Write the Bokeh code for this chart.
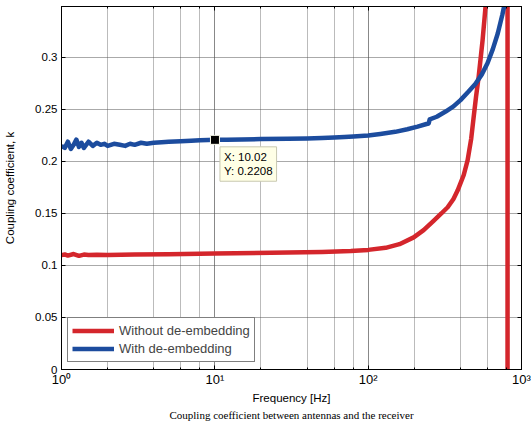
from bokeh.plotting import figure
from bokeh.models import (Range1d, LogAxis, LinearAxis, FixedTicker, LogTicker,
                          Legend, LegendItem, Label, Title)
from bokeh.embed import file_html
from bokeh.resources import INLINE

# ---------------- data ----------------
freq_with = [1.0, 1.05, 1.1, 1.15, 1.2, 1.25, 1.3, 1.35, 1.4, 1.5, 1.6, 1.7, 1.8, 1.9, 2.0,
             2.2, 2.4, 2.6, 2.8, 3.0, 3.3, 3.6, 4.0, 4.5, 5.0, 6.0, 7.0, 8.0, 9.0, 10.02,
             12, 15, 20, 30, 40, 50, 60, 70, 80, 100, 120, 150, 180, 210, 240, 248, 252,
             280, 320, 360, 400, 450, 500, 550, 600, 650, 700, 750, 780, 800]
k_with = [0.215, 0.213, 0.219, 0.212, 0.216, 0.221, 0.214, 0.218, 0.213, 0.219, 0.215, 0.218,
          0.216, 0.217, 0.215, 0.217, 0.216, 0.215, 0.217, 0.216, 0.218, 0.217, 0.218, 0.2185,
          0.219, 0.2195, 0.2200, 0.2203, 0.2206, 0.2208, 0.2210, 0.2212, 0.2215, 0.2218,
          0.2222, 0.2225, 0.2230, 0.2235, 0.2240, 0.2250, 0.2265, 0.2285, 0.2310, 0.2335,
          0.2360, 0.2365, 0.2405, 0.2430, 0.2480, 0.2530, 0.2590, 0.2670, 0.2745, 0.2835,
          0.2945, 0.3080, 0.3230, 0.3410, 0.3530, 0.3620]

freq_without = [1.0, 1.05, 1.1, 1.2, 1.3, 1.4, 1.5, 1.7, 2.0, 3.0, 5.0, 10.0, 30.0, 50.0,
                77.0, 100.0, 130.0, 160.0, 198.0, 230.0, 267.0, 300.0, 330.0, 360.0, 383.0,
                420.0, 445.0, 470.0, 487.0, 505.0, 525.0, 545.0, 557.0, 583.0, 620.0, 700.0,
                780.0, 810.0, 812.0, 850.0, 1000.0]
k_without = [0.1100, 0.1106, 0.1095, 0.1110, 0.1093, 0.1105, 0.1100, 0.1103, 0.1100, 0.1105,
             0.1108, 0.1115, 0.1125, 0.1130, 0.1140, 0.1150, 0.1170, 0.1205, 0.1270, 0.1340,
             0.1430, 0.1500, 0.1560, 0.1640, 0.1720, 0.1870, 0.2010, 0.2220, 0.2420, 0.2620,
             0.2810, 0.3030, 0.3160, 0.3490, 0.4100, 0.6000, 1.2000, 3.0000, -3.0000,
             -1.0000, -0.4000]

y_ticks = [0, 0.05, 0.1, 0.15, 0.2, 0.25, 0.3]
y_tick_labels = ["0", "0.05", "0.1", "0.15", "0.2", "0.25", "0.3"]
x_ticks = [1, 10, 100, 1000]
x_tick_labels = ["10\u2070", "10\u00b9", "10\u00b2", "10\u00b3"]

tip_x, tip_y = 10.02, 0.2208
series_names = ["Without de-embedding", "With de-embedding"]
caption = "Coupling coefficient between antennas and the receiver"

RED = "#d4262c"
BLUE = "#1c4c9e"
FONT = "Liberation Sans"

p = figure(width=531, height=421, x_axis_type="log",
           x_range=Range1d(1, 1000), y_range=Range1d(0, 0.349),
           output_backend="svg", toolbar_location=None,
           min_border_left=61, min_border_right=10, min_border_top=6, min_border_bottom=52,
           background_fill_color="white", border_fill_color="white")
p.outline_line_color = "black"
p.outline_line_width = 1

# grids
p.xgrid.grid_line_color = "#555555"
p.xgrid.grid_line_dash = "1 1"
p.xgrid.minor_grid_line_color = "#777777"
p.xgrid.minor_grid_line_dash = "1 1"
p.ygrid.ticker = FixedTicker(ticks=y_ticks)
p.ygrid.grid_line_color = "#555555"
p.ygrid.grid_line_dash = "1 1"

# axes
xa = p.xaxis[0]
xa.ticker = LogTicker(desired_num_ticks=4)
xa.major_label_overrides = {t: s for t, s in zip(x_ticks, x_tick_labels)}
xa.axis_label = "Frequency [Hz]"
ya = p.yaxis[0]
ya.ticker = FixedTicker(ticks=y_ticks)
ya.major_label_overrides = {t: s for t, s in zip(y_ticks, y_tick_labels)}
ya.axis_label = "Coupling coefficient, k"

for ax in (xa, ya):
    ax.axis_line_color = "black"
    ax.major_tick_in = 4
    ax.major_tick_out = 0
    ax.minor_tick_in = 2
    ax.minor_tick_out = 0
    ax.major_tick_line_color = "black"
    ax.minor_tick_line_color = "black"
    ax.major_label_text_font = FONT
    ax.major_label_text_font_size = "13px"
    ax.major_label_text_color = "black"
    ax.axis_label_text_font = FONT
    ax.axis_label_text_font_size = "11.5px"
    ax.axis_label_text_font_style = "normal"
    ax.axis_label_text_color = "black"
    ax.major_label_standoff = 4
ya.major_label_text_font_size = "11.5px"
ya.axis_label_standoff = 16
xa.axis_label_standoff = 2
xa.major_label_standoff = 2

top = LogAxis(ticker=LogTicker(desired_num_ticks=4), major_label_text_font_size="1px",
              major_label_text_alpha=0,
              major_tick_in=4, major_tick_out=0, minor_tick_in=2, minor_tick_out=0,
              major_label_standoff=0, axis_line_color="black")
right = LinearAxis(ticker=FixedTicker(ticks=y_ticks), major_label_text_font_size="1px",
                   major_label_text_alpha=0,
                   major_tick_in=4, major_tick_out=0, minor_tick_in=0, minor_tick_out=0,
                   major_label_standoff=0, axis_line_color="black")
p.add_layout(top, "above")
p.add_layout(right, "right")

# data lines
r_red = p.line(freq_without, k_without, line_color=RED, line_width=4.5, line_join="round")
r_blue = p.line(freq_with, k_with, line_color=BLUE, line_width=4.5, line_join="round")

# data tip
p.scatter([tip_x], [tip_y], marker="square", size=9, fill_color="black",
          line_color="#fffff0", line_width=1)
tip = Label(x=tip_x, y=tip_y, x_offset=5, y_offset=-7,
            text=f"X: {tip_x:.2f}\nY: {tip_y:.4f}",
            text_font=FONT, text_font_size="11.5px", text_color="black",
            text_align="left", text_baseline="top",
            background_fill_color="#ffffe6", border_line_color="#c8c8b0",
            padding=4)
p.add_layout(tip)

legend = Legend(items=[LegendItem(label=series_names[0], renderers=[r_red]),
                       LegendItem(label=series_names[1], renderers=[r_blue])],
                location=(6, 7), orientation="vertical",
                border_line_color="black", border_line_width=1,
                background_fill_color="white", background_fill_alpha=1,
                label_text_font=FONT, label_text_font_size="13px",
                glyph_width=42, glyph_height=17, label_height=17,
                label_standoff=5, padding=4, spacing=1, margin=0)
p.add_layout(legend)

cap = Title(text=caption, align="center", text_font="Liberation Serif",
            text_font_size="11px", text_font_style="normal", text_color="black",
            standoff=0, offset=0)
p.add_layout(cap, "below")

open("out.html", "w").write(file_html(p, INLINE))
